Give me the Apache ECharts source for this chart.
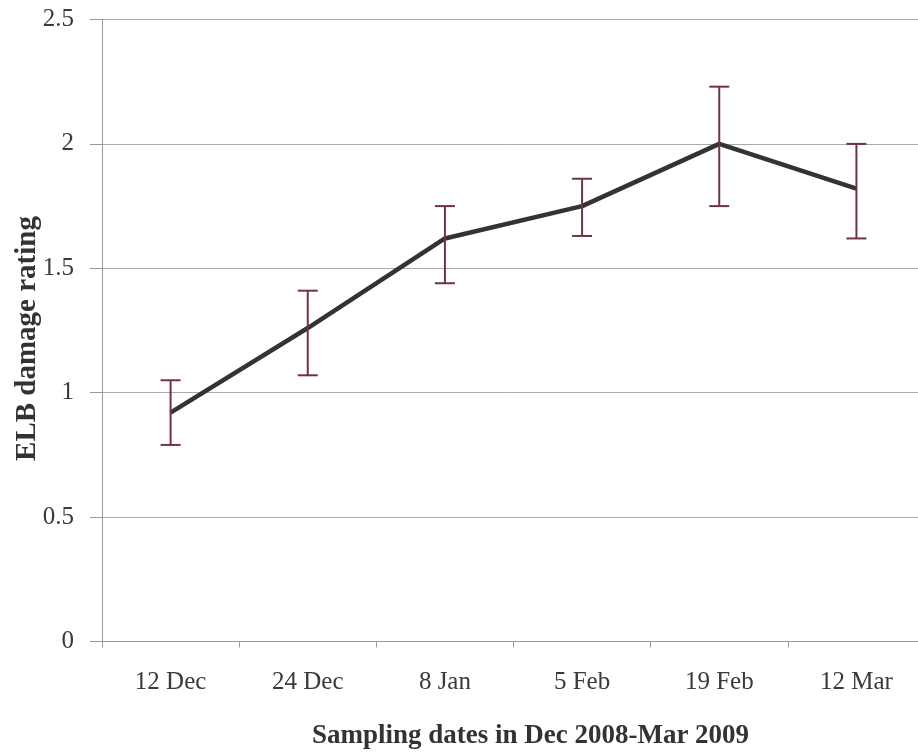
<!DOCTYPE html>
<html>
<head>
<meta charset="utf-8">
<script src="https://cdn.jsdelivr.net/npm/echarts@6/dist/echarts.min.js"></script>
<style>
html,body{margin:0;padding:0;background:#fff;}
#chart{width:918px;height:753px;}
</style>
</head>
<body>
<div id="chart"></div>
<script>
var categories = ['12 Dec', '24 Dec', '8 Jan', '5 Feb', '19 Feb', '12 Mar'];
var means = [0.92, 1.26, 1.62, 1.75, 2.00, 1.82];
var upper = [1.05, 1.41, 1.75, 1.86, 2.23, 2.00];
var lower = [0.79, 1.07, 1.44, 1.63, 1.75, 1.62];
var yTicks = [0, 0.5, 1, 1.5, 2, 2.5];

var FONT = "'Liberation Serif', 'Times New Roman', serif";
var errData = categories.map(function (c, i) { return [i, lower[i], upper[i]]; });

var chart = echarts.init(document.getElementById('chart'));
chart.setOption({
  animation: false,
  backgroundColor: '#ffffff',
  grid: { left: 102, right: -7, top: 19.5, bottom: 111.5, containLabel: false, outerBoundsMode: 'none' },
  xAxis: {
    type: 'category',
    data: categories,
    boundaryGap: true,
    name: 'Sampling dates in Dec 2008-Mar 2009',
    nameLocation: 'middle',
    nameGap: 81,
    nameMoveOverlap: false,
    nameTextStyle: { fontFamily: FONT, fontSize: 27, fontWeight: 'bold', color: '#333', padding: [0, 0, 0, 34] },
    axisLine: { show: true, lineStyle: { color: '#999', width: 1 } },
    axisTick: { show: true, alignWithLabel: false, length: 6, lineStyle: { color: '#999' } },
    axisLabel: { fontFamily: FONT, fontSize: 25, color: '#3a3a3a', margin: 28, interval: 0 },
    splitLine: { show: false }
  },
  yAxis: {
    type: 'value',
    min: yTicks[0],
    max: yTicks[yTicks.length - 1],
    interval: 0.5,
    name: 'ELB damage rating',
    nameLocation: 'middle',
    nameGap: 60,
    nameMoveOverlap: false,
    nameTextStyle: { fontFamily: FONT, fontSize: 29, fontWeight: 'bold', color: '#333', padding: [0, 16, 0, 0] },
    axisLine: { show: true, lineStyle: { color: '#999', width: 1 } },
    axisTick: { show: true, length: 12, lineStyle: { color: '#999' } },
    axisLabel: { fontFamily: FONT, fontSize: 25, color: '#3a3a3a', margin: 28 },
    splitLine: { show: true, lineStyle: { color: '#aaa', width: 1 } }
  },
  series: [
    {
      type: 'line',
      data: means,
      symbol: 'none',
      lineStyle: { color: '#333333', width: 4.5 },
      z: 3
    },
    {
      type: 'custom',
      data: errData,
      z: 4,
      renderItem: function (params, api) {
        var x = api.value(0);
        var lo = api.coord([x, api.value(1)]);
        var hi = api.coord([x, api.value(2)]);
        var half = 10;
        var style = { stroke: '#6e3444', lineWidth: 2 };
        return {
          type: 'group',
          children: [
            { type: 'line', shape: { x1: hi[0], y1: hi[1], x2: lo[0], y2: lo[1] }, style: style },
            { type: 'line', shape: { x1: hi[0] - half, y1: hi[1], x2: hi[0] + half, y2: hi[1] }, style: style },
            { type: 'line', shape: { x1: lo[0] - half, y1: lo[1], x2: lo[0] + half, y2: lo[1] }, style: style }
          ]
        };
      }
    }
  ]
});
</script>
</body>
</html>
